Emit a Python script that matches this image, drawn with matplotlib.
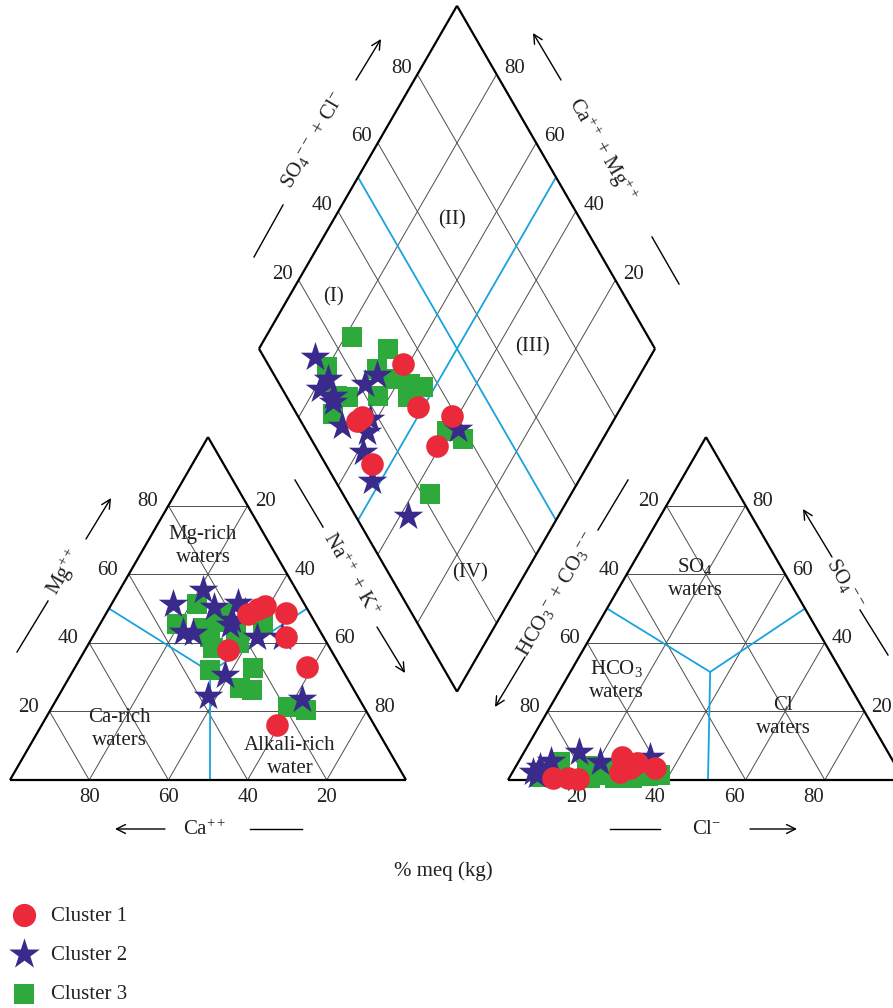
import numpy as np
import matplotlib
matplotlib.use('Agg')
import matplotlib.pyplot as plt

plt.rcParams['font.family'] = ['Liberation Serif', 'DejaVu Serif']
plt.rcParams['mathtext.fontset'] = 'custom'
plt.rcParams['mathtext.rm'] = 'Liberation Serif'
plt.rcParams['mathtext.it'] = 'Liberation Serif:italic'
plt.rcParams['mathtext.bf'] = 'Liberation Serif:bold'

# ---------------- data (% meq) ----------------
cluster_names = ['Cluster 1', 'Cluster 2', 'Cluster 3']

# cation triangle: Mg and Na+K (Ca = 100 - Mg - Na)
c1_mg = [48.4, 50.7, 48.7, 41.7, 37.9, 32.9, 16.0, 50.0]
c1_na = [35.9, 39.0, 45.4, 48.9, 36.1, 58.5, 59.4, 37.5]
c2_mg = [51.3, 55.4, 50.4, 51.6, 46.6, 43.1, 42.9, 41.7, 30.6, 24.5, 23.6, 41.7, 45.2, 49.0]
c2_na = [15.5, 21.0, 26.3, 31.8, 32.8, 22.1, 24.8, 41.6, 39.0, 37.8, 61.9, 47.8, 33.0, 34.8]
c3_mg = [51.3, 45.5, 41.7, 38.5, 39.9, 32.1, 32.7, 26.8, 26.2, 21.3, 20.4, 45.8, 46.1, 44.3, 48.7, 43.7]
c3_na = [21.5, 19.5, 29.7, 32.1, 37.8, 34.5, 45.1, 44.7, 48.0, 59.6, 64.5, 41.0, 29.5, 26.5, 30.0, 35.2]

# anion triangle: SO4 and Cl (HCO3+CO3 = 100 - SO4 - Cl)
c1_so4 = [0.6, 0.6, 0.3, 6.7, 3.5, 5.0, 3.5, 2.3]
c1_cl = [11.1, 14.9, 17.6, 25.4, 29.1, 30.1, 35.4, 27.1]
c2_so4 = [2.3, 3.8, 5.5, 8.2, 5.2, 6.7, 1.5]
c2_cl = [5.1, 6.2, 8.1, 13.8, 20.6, 32.5, 6.6]
c3_so4 = [0.9, 5.2, 1.2, 4.1, 1.5, 0.6, 0.6, 1.2, 1.5, 0.6, 2.9]
c3_cl = [7.7, 10.5, 12.5, 17.9, 22.5, 26.7, 31.0, 34.8, 37.7, 20.4, 23.0]

# diamond: Na+K and SO4+Cl
c1_dnak = [38.6, 35.9, 48.6, 58.5, 59.2, 45.3, 35.3]
c1_dsc = [34.2, 16.1, 31.7, 39.0, 30.7, 11.8, 14.3]
c2_dnak = [15.3, 21.8, 21.2, 25.5, 26.4, 31.9, 33.7, 32.2, 39.4, 41.3, 47.9, 62.0, 61.9, 38.2]
c2_dsc = [13.0, 13.1, 9.6, 11.8, 11.0, 21.7, 25.9, 9.7, 15.2, 11.2, 9.2, 13.3, 38.6, 17.8]
c3_dnak = [21.7, 32.6, 19.8, 32.7, 38.2, 43.2, 47.0, 29.5, 37.0, 28.2, 44.6, 59.4, 64.6, 64.3, 26.6]
c3_dsc = [25.2, 32.6, 14.6, 26.9, 29.5, 33.0, 35.9, 15.5, 23.1, 9.2, 30.6, 35.5, 38.4, 22.0, 12.8]

tick_values = [20, 40, 60, 80]

# ---------------- geometry ----------------
L = 396.0
H = L * np.sqrt(3) / 2
Y0 = 780.0
XC = 10.0          # cation triangle left vertex
GAP = 102.0
XA = XC + L + GAP  # anion triangle left vertex
BX, BY = XC + L + GAP / 2, Y0 - GAP * np.sqrt(3) / 2  # diamond bottom
DLX, DLY = BX - L / 2, BY - H                         # diamond left vertex


def cat_xy(mg, na):
    mg = np.asarray(mg, float); na = np.asarray(na, float)
    return XC + L * (na + mg / 2) / 100, Y0 - H * mg / 100


def an_xy(so4, cl):
    so4 = np.asarray(so4, float); cl = np.asarray(cl, float)
    return XA + L * (cl + so4 / 2) / 100, Y0 - H * so4 / 100


def dia_xy(nak, sc):
    nak = np.asarray(nak, float); sc = np.asarray(sc, float)
    return DLX + (L / 2) * (nak + sc) / 100, DLY + H * (nak - sc) / 100


fig = plt.figure(figsize=(8.93, 10.08), dpi=100)
ax = fig.add_axes([0, 0, 1, 1])
ax.set_xlim(0, 893)
ax.set_ylim(1008, 0)
ax.axis('off')

GRID = dict(color='#4d4d4d', lw=0.7, zorder=1)
EDGE = dict(color='black', lw=1.6, zorder=2)
BLUE = dict(color='#19a3dd', lw=1.3, zorder=1.5)
FS = 15


def line(f, p, q, **kw):
    x1, y1 = f(*p)
    x2, y2 = f(*q)
    ax.plot([x1, x2], [y1, y2], solid_capstyle='butt', **kw)


# triangles
for f in (cat_xy, an_xy):
    for k in tick_values:
        line(f, (k, 0), (k, 100 - k), **GRID)          # horizontal
        line(f, (0, k), (100 - k, k), **GRID)          # parallel to left edge
        line(f, (0, 100 - k), (100 - k, 0), **GRID)    # parallel to right edge
    line(f, (0, 0), (0, 100), **EDGE)
    line(f, (0, 100), (100, 0), **EDGE)
    line(f, (100, 0), (0, 0), **EDGE)

# diamond
for k in tick_values:
    line(dia_xy, (k, 0), (k, 100), **GRID)
    line(dia_xy, (0, k), (100, k), **GRID)
for p, q in [((0, 0), (0, 100)), ((0, 100), (100, 100)), ((100, 100), (100, 0)), ((100, 0), (0, 0))]:
    line(dia_xy, p, q, **EDGE)

# blue classification lines
line(dia_xy, (50, 0), (50, 100), **BLUE)
line(dia_xy, (0, 50), (100, 50), **BLUE)
for f, cen in ((cat_xy, (31.5, 34.8)), (an_xy, (31.5, 35.3))):
    line(f, (50, 0), cen, **BLUE)
    line(f, (50, 50), cen, **BLUE)
    line(f, (0, 50.5), cen, **BLUE)

# ---------------- points ----------------
RED, NAVY, GREEN = '#ea2a3a', '#3a2a8c', '#2eaa3c'
S_SQ, S_ST, S_CI = 215, 500, 265
for f, (a3, b3), (a2, b2), (a1, b1) in [
        (cat_xy, (c3_mg, c3_na), (c2_mg, c2_na), (c1_mg, c1_na)),
        (an_xy, (c3_so4, c3_cl), (c2_so4, c2_cl), (c1_so4, c1_cl)),
        (dia_xy, (c3_dnak, c3_dsc), (c2_dnak, c2_dsc), (c1_dnak, c1_dsc))]:
    x, y = f(a3, b3)
    ax.scatter(x, y, s=S_SQ, marker='s', color=GREEN, lw=0, zorder=3)
    x, y = f(a2, b2)
    ax.scatter(x, y, s=S_ST, marker='*', color=NAVY, lw=0, zorder=4)
    x, y = f(a1, b1)
    ax.scatter(x, y, s=S_CI, marker='o', color=RED, lw=0, zorder=5)

# ---------------- tick labels ----------------
TK = dict(fontsize=FS, ha='center', va='center', color='#222222')
for k in tick_values:
    x, y = cat_xy(k, 0); ax.text(x - 21, y - 4, str(k), **TK)
    x, y = cat_xy(k, 100 - k); ax.text(x + 18, y - 4, str(100 - k), **TK)
    x, y = cat_xy(0, 100 - k); ax.text(x, 798, str(k), **TK)
    x, y = an_xy(k, 0); ax.text(x - 18, y - 4, str(100 - k), **TK)
    x, y = an_xy(k, 100 - k); ax.text(x + 17, y - 4, str(k), **TK)
    x, y = an_xy(0, k); ax.text(x - 11, 798, str(k), **TK)
    x, y = dia_xy(0, k); ax.text(x - 16, y - 6, str(k), **TK)
    x, y = dia_xy(100 - k, 100); ax.text(x + 18, y - 6, str(k), **TK)

# ---------------- region labels ----------------
RL = dict(fontsize=FS, ha='center', va='center', color='#222222', linespacing=1.3)
ax.text(203, 546, 'Mg-rich\nwaters', **RL)
ax.text(119, 729, 'Ca-rich\nwaters', **RL)
ax.text(290, 757, 'Alkali-rich\nwater', **RL)
ax.text(695, 578, 'SO$_4$\nwaters', **RL)
ax.text(616, 680, 'HCO$_3$\nwaters', **RL)
ax.text(783, 717, 'Cl\nwaters', **RL)
ax.text(333, 297, '(I)', **RL)
ax.text(452, 220, '(II)', **RL)
ax.text(533, 347, '(III)', **RL)
ax.text(470, 573, '(IV)', **RL)

# ---------------- axis titles & arrows ----------------
AL = dict(fontsize=FS, ha='center', va='center', color='#222222', rotation_mode='anchor')
ax.text(64, 572, r'Mg$^{++}$', rotation=60, **AL)
ax.text(350, 575, r'Na$^{++}$ + K$^{+}$', rotation=-60, **AL)
ax.text(205, 830, r'Ca$^{++}$', **AL)
ax.text(707, 830, r'Cl$^{-}$', **AL)
ax.text(557, 594, r'HCO$_3$$^{-}$ + CO$_3$$^{--}$', rotation=60, **AL)
ax.text(845, 583, r'SO$_4$$^{--}$', rotation=-60, **AL)
ax.text(313, 140, r'SO$_4$$^{--}$ + Cl$^{-}$', rotation=60, **AL)
ax.text(602, 150, r'Ca$^{++}$ + Mg$^{++}$', rotation=-60, **AL)
ax.text(443, 871, '% meq (kg)', fontsize=FS, ha='center', va='center', color='#222222')

ARW = dict(arrowstyle='->', color='black', lw=1.0, mutation_scale=16, shrinkA=0, shrinkB=0)
for (x1, y1), (x2, y2) in [((86, 539), (111, 498)), ((377, 627), (405, 673)),
                           ((165, 829), (115, 829)), ((750, 829), (797, 829)),
                           ((525, 657), (495, 707)), ((832, 557), (803, 509)),
                           ((356, 80), (381, 39)), ((561, 80), (533, 33))]:
    ax.annotate('', xy=(x2, y2), xytext=(x1, y1), arrowprops=ARW)
for (x1, y1), (x2, y2) in [((17, 652), (48, 601)), ((295, 480), (323, 527)),
                           ((250, 829), (302, 829)), ((610, 829), (660, 829)),
                           ((628, 480), (598, 530)), ((860, 610), (888, 655)),
                           ((254, 257), (283, 205)), ((652, 237), (679, 284))]:
    ax.plot([x1, x2], [y1, y2], color='black', lw=1.0)

# ---------------- legend ----------------
h1 = ax.scatter([], [], s=280, marker='o', color=RED, lw=0)
h2 = ax.scatter([], [], s=540, marker='*', color=NAVY, lw=0)
h3 = ax.scatter([], [], s=215, marker='s', color=GREEN, lw=0)
ax.legend([h1, h2, h3], cluster_names, loc='upper left',
          bbox_to_anchor=(8 / 893, 1 - 906 / 1008), frameon=False,
          fontsize=FS, handlelength=1.5, handletextpad=0.55,
          borderpad=0, borderaxespad=0, labelspacing=0.95, labelcolor='#222222')

fig.savefig('out.png', dpi=100)
